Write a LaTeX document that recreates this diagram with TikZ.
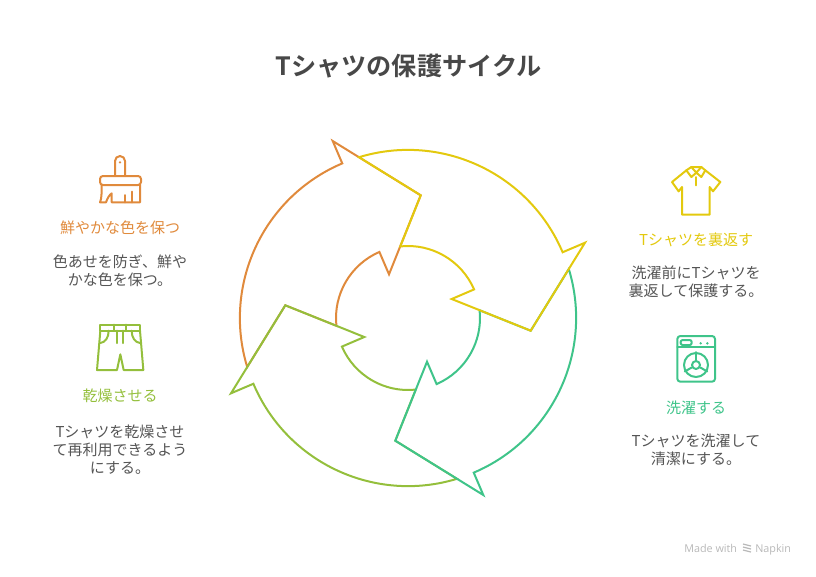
\documentclass[tikz,border=0pt]{standalone}
\usepackage{fontspec}
\usepackage{tikz}
\setmainfont{Noto Sans CJK JP}[BoldFont={Noto Sans CJK JP Bold}]
\newfontfamily\napkinfont{Open Sans}
\definecolor{dryolive}{HTML}{94BF3C}
\definecolor{paintorange}{HTML}{E08A3C}
\definecolor{flipyellow}{HTML}{E3C90E}
\definecolor{washgreen}{HTML}{3FC48A}
\definecolor{bodygray}{HTML}{555555}
\definecolor{titlegray}{HTML}{484848}
\tikzset{
	ring/.style={line width=1.5pt,line join=miter},
	icon/.style={line width=1.5pt,line join=round,line cap=round},
	head/.style={font=\fontsize{11.25}{13.5}\selectfont,inner sep=0pt},
	body/.style={font=\fontsize{11.25}{13.5}\selectfont,text=bodygray,align=center,inner sep=0pt},
	credit/.style={font=\napkinfont\fontsize{8.1}{9}\selectfont,text=black!28,inner sep=0pt,anchor=base west}
}
\begin{document}
\begin{tikzpicture}[x=0.75pt,y=-0.75pt]
	\useasboundingbox (0,0) rectangle (816,576);
	\node[font=\bfseries\fontsize{18.9}{22}\selectfont,text=titlegray,inner sep=0pt] (title) at (408.5,66) {Tシャツの保護サイクル};

	\foreach \a/\c in {90/paintorange,180/dryolive,270/washgreen,360/flipyellow}
		\draw[ring,\c,shift={(408,318)},rotate=\a] (-49,-160.8) arc[start angle=-106.95,end angle=-23,radius=168]
			-- (177,-75.3) -- (122.7,12.7) -- (43.7,-19) -- (-23.4:72) arc[start angle=-23.4,end angle=-96.17,radius=72]
			-- (12.7,-122.7) -- cycle;

	\node[head,text=paintorange] (painthead) at (120,227.5) {鮮やかな色を保つ};
	\node[body] (paintbody) at (120,270.5) {色あせを防ぎ、鮮や\\かな色を保つ。};
	\node[head,text=dryolive] (dryhead) at (120,396) {乾燥させる};
	\node[body] (drybody) at (120,450) {Tシャツを乾燥させ\\て再利用できるよう\\にする。};
	\node[head,text=flipyellow] (fliphead) at (696,240) {Tシャツを裏返す};
	\node[body] (flipbody) at (696,282) {洗濯前にTシャツを\\裏返して保護する。};
	\node[head,text=washgreen] (washhead) at (696,408) {洗濯する};
	\node[body] (washbody) at (696,449.5) {Tシャツを洗濯して\\清潔にする。};

	\begin{scope}[shift={(40,145)},scale=1/3,icon,paintorange]
		\draw (225,93) -- (225,48) arc[start angle=180,end angle=360,radius=15] -- (255,93);
		\fill (240,52) circle (4);
		\draw[rounded corners=2.2pt] (180,93) rectangle (303,120);
		\draw (185,120) .. controls (185,145) and (185,160) .. (180,172) -- (198,172) .. controls (202,160) and (208,150) .. (215,145) -- (215,172) -- (300,172) -- (300,120);
		\foreach \x/\y in {255/150,277/140}
			\draw (\x,172) -- (\x,\y);
	\end{scope}

	\begin{scope}[shift={(40,315)},scale=1/3,icon,dryolive]
		\draw (181,29) rectangle (300,47);
		\draw (181,47) -- (171,165) -- (231,165) -- (241,118) -- (251,165) -- (310,165) -- (300,47);
		\foreach \x in {223,258}
			\draw (\x,29) -- (\x,47);
		\foreach \x in {231,248}
			\draw (\x,47) -- (\x,84);
		\draw (181,84) .. controls (196,82) and (206,68) .. (206,47);
		\draw (300,84) .. controls (285,82) and (275,68) .. (275,47);
	\end{scope}

	\begin{scope}[shift={(620,160)},scale=1/3,icon,flipyellow]
		\draw (186,81) -- (186,164) -- (269,164) -- (269,81) -- (279,94) -- (301,66) -- (256,31) -- (244,21) -- (214,21) -- (199,31) -- (156,66) -- (176,94) -- cycle;
		\draw (199,31) -- (214,51) -- (229,38) -- (244,51) -- (256,31);
		\draw (214,21) -- (229,38) -- (244,21);
		\draw (229,51) -- (229,76);
	\end{scope}

	\begin{scope}[shift={(620,330)},scale=1/3,icon,washgreen]
		\draw[rounded corners=2.2pt] (172,18) rectangle (285,155);
		\draw (172,50) -- (285,50);
		\draw[rounded corners=1.5pt] (182,30) rectangle (215,45);
		\foreach \x in {242,262}
			\fill (\x,40) circle (4);
		\node[draw,circle,minimum size=18pt,inner sep=0pt] (drum) at (228,105) {};
		\node[draw,circle,minimum size=6pt,inner sep=0pt] (hub) at (228,105) {};
		\foreach \b in {90,210,330}
			\draw (hub.\b) -- (drum.\b);
	\end{scope}

	\node[credit] (made) at (684,552) {Made with};
	\node[credit] (napkin) at (755,552) {Napkin};
	\foreach \y in {544,547,550}
		\draw[black!28,line width=0.9pt] (743,\y) -- (751,\y+2);
\end{tikzpicture}
\end{document}
